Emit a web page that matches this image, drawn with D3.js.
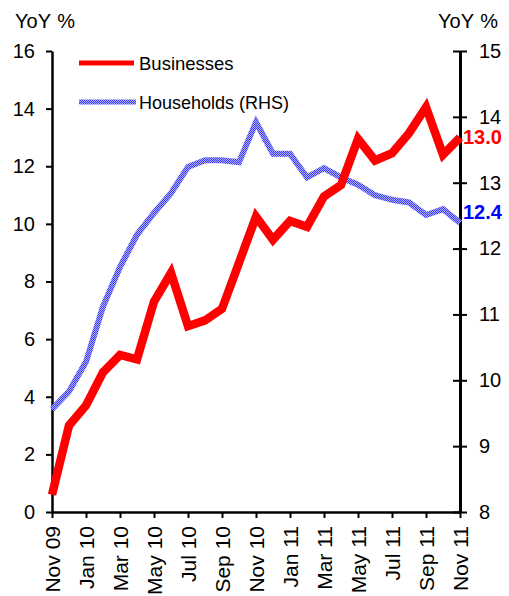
<!doctype html>
<html>
<head>
  <style>
    body { margin: 0; background: #fff; }
    text { font-family: "Liberation Sans", Arial, sans-serif; fill: #000; }
    .axis path, .axis line { stroke: #000; }
  </style>
  <script src="https://cdn.jsdelivr.net/npm/d3@7"></script>
</head>
<body>
  <script>
  // monthly, Nov 09 .. Nov 11
  var months = ["Nov 09","Dec 09","Jan 10","Feb 10","Mar 10","Apr 10","May 10","Jun 10","Jul 10",
                "Aug 10","Sep 10","Oct 10","Nov 10","Dec 10","Jan 11","Feb 11","Mar 11","Apr 11",
                "May 11","Jun 11","Jul 11","Aug 11","Sep 11","Oct 11","Nov 11"];
  var businesses = [0.6, 3.0, 3.7, 4.85, 5.45, 5.3, 7.3, 8.3, 6.45, 6.65, 7.05, 8.65, 10.25,
                    9.45, 10.1, 9.9, 10.95, 11.35, 12.95, 12.2, 12.45, 13.15, 14.05, 12.4, 13.0];
  var households = [9.56, 9.83, 10.28, 11.12, 11.72, 12.21, 12.54, 12.84, 13.24, 13.34, 13.34, 13.31, 13.92,
                    13.44, 13.44, 13.08, 13.22, 13.08, 12.97, 12.81, 12.74, 12.70, 12.51, 12.6, 12.39];
  var leftTicks = [0, 2, 4, 6, 8, 10, 12, 14, 16];
  var rightTicks = [8, 9, 10, 11, 12, 13, 14, 15];

  var W = 509, H = 596;
  var pLeft = 52, pRight = 460, pTop = 51, pBottom = 512;

  var svg = d3.select("body").append("svg")
      .attr("width", W)
      .attr("height", H);

  // checkered fill for the households line
  var pat = svg.append("defs").append("pattern")
      .attr("id", "chk")
      .attr("patternUnits", "userSpaceOnUse")
      .attr("width", 2).attr("height", 2);
  pat.append("rect").attr("width", 2).attr("height", 2).attr("fill", "#b0b0ff");
  pat.append("rect").attr("width", 1).attr("height", 1).attr("fill", "#3a3aff");
  pat.append("rect").attr("x", 1).attr("y", 1).attr("width", 1).attr("height", 1).attr("fill", "#3a3aff");

  var x = d3.scaleLinear().domain([0, months.length - 1]).range([pLeft, pRight]);
  var yL = d3.scaleLinear().domain([0, 16]).range([pBottom, pTop]);
  var yR = d3.scaleLinear().domain([8, 15]).range([pBottom, pTop]);

  // axes
  var xAxis = svg.append("g").attr("class", "axis")
      .attr("transform", "translate(0," + pBottom + ")")
      .call(d3.axisBottom(x)
        .tickValues(d3.range(0, months.length, 2))
        .tickFormat(function(d) { return months[d]; })
        .tickSize(6).tickSizeOuter(0));
  xAxis.select(".domain").attr("stroke-width", 2.5);
  xAxis.selectAll("line").attr("stroke-width", 2);
  xAxis.selectAll("text")
      .attr("transform", "rotate(-90)")
      .attr("x", -14).attr("y", 0).attr("dy", "0.36em")
      .style("text-anchor", "end")
      .style("font-size", "21px");

  var lAxis = svg.append("g").attr("class", "axis")
      .attr("transform", "translate(" + pLeft + ",0)")
      .call(d3.axisLeft(yL).tickValues(leftTicks).tickSize(6).tickSizeOuter(0).tickPadding(11));
  lAxis.select(".domain").attr("stroke-width", 2.5);
  lAxis.selectAll("line").attr("stroke-width", 2);
  lAxis.selectAll("text").style("font-size", "20px");

  var rAxis = svg.append("g").attr("class", "axis")
      .attr("transform", "translate(" + pRight + ",0)")
      .call(d3.axisRight(yR).tickValues(rightTicks).tickFormat(d3.format("d"))
        .tickSize(7).tickSizeOuter(0).tickPadding(12));
  rAxis.select(".domain").attr("stroke-width", 3);
  rAxis.selectAll("line").attr("x1", -7).attr("stroke-width", 2);
  rAxis.selectAll("text").style("font-size", "20px");

  // titles
  svg.append("text").attr("x", 15).attr("y", 28).style("font-size", "20px")
      .style("word-spacing", "1px").text("YoY %");
  svg.append("text").attr("x", 498).attr("y", 28).style("font-size", "20px")
      .style("word-spacing", "1px").style("text-anchor", "end").text("YoY %");

  // lines
  var lineB = d3.line().x(function(d, i) { return x(i); }).y(function(d) { return yL(d); });
  var lineH = d3.line().x(function(d, i) { return x(i); }).y(function(d) { return yR(d); });

  svg.append("path").datum(households)
      .attr("d", lineH)
      .attr("fill", "none")
      .attr("stroke", "url(#chk)")
      .attr("stroke-width", 6);

  svg.append("path").datum(businesses)
      .attr("d", lineB)
      .attr("fill", "none")
      .attr("stroke", "#ff0000")
      .attr("stroke-width", 8.5)
      .attr("stroke-linejoin", "miter");

  // end labels
  var last = months.length - 1;
  svg.append("text").attr("x", 463).attr("y", yL(businesses[last]) + 7)
      .style("font-size", "20px").style("font-weight", "bold").style("fill", "#ff0000")
      .text(businesses[last].toFixed(1));
  svg.append("text").attr("x", 463).attr("y", yR(households[last]) - 4)
      .style("font-size", "20px").style("font-weight", "bold").style("fill", "#0000ff")
      .text(households[last].toFixed(1));

  // legend
  var legend = svg.append("g");
  legend.append("line").attr("x1", 79).attr("x2", 134).attr("y1", 63).attr("y2", 63)
      .attr("stroke", "#ff0000").attr("stroke-width", 5);
  legend.append("text").attr("x", 139).attr("y", 70).style("font-size", "18.5px").text("Businesses");
  legend.append("line").attr("x1", 79).attr("x2", 136).attr("y1", 102).attr("y2", 102)
      .attr("stroke", "url(#chk)").attr("stroke-width", 5);
  legend.append("text").attr("x", 139).attr("y", 109).style("font-size", "18px").text("Households (RHS)");
  </script>
</body>
</html>
